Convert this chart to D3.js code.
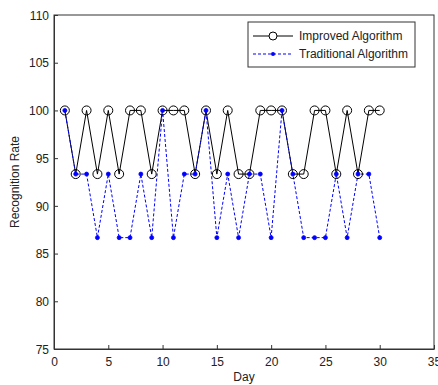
<!DOCTYPE html>
<html>
<head>
<meta charset="utf-8">
<script src="https://d3js.org/d3.v7.min.js"></script>
<style>
  body { margin: 0; background: #fff; }
  text { font-family: "Liberation Sans", Arial, sans-serif; fill: #222; }
</style>
</head>
<body>
<div id="chart"></div>
<script>
// data
const days = d3.range(1, 31);
const improved = [100, 93.33, 100, 93.33, 100, 93.33, 100, 100, 93.33, 100,
                  100, 100, 93.33, 100, 93.33, 100, 93.33, 93.33, 100, 100,
                  100, 93.33, 93.33, 100, 100, 93.33, 100, 93.33, 100, 100];
const traditional = [100, 93.33, 93.33, 86.67, 93.33, 86.67, 86.67, 93.33, 86.67, 100,
                     86.67, 93.33, 93.33, 100, 86.67, 93.33, 86.67, 93.33, 93.33, 86.67,
                     100, 93.33, 86.67, 86.67, 86.67, 93.33, 86.67, 93.33, 93.33, 86.67];
const xTicks = [0, 5, 10, 15, 20, 25, 30, 35];
const yTicks = [75, 80, 85, 90, 95, 100, 105, 110];
const seriesNames = ["Improved Algorithm", "Traditional Algorithm"];

const width = 438, height = 385;
const margin = {top: 15, right: 4, bottom: 36, left: 54};
const w = width - margin.left - margin.right;
const h = height - margin.top - margin.bottom;

const svg = d3.select("#chart").append("svg")
    .attr("width", width)
    .attr("height", height);

const g = svg.append("g")
    .attr("transform", "translate(" + margin.left + "," + margin.top + ")");

const x = d3.scaleLinear().domain([0, 35]).range([0, w]);
const y = d3.scaleLinear().domain([75, 110]).range([h, 0]);

// box
g.append("rect")
    .attr("width", w).attr("height", h)
    .attr("fill", "none").attr("stroke", "#333").attr("stroke-width", 1);

// axes
const xAxis = g.append("g")
    .attr("transform", "translate(0," + h + ")")
    .call(d3.axisBottom(x).tickValues(xTicks).tickSizeInner(-4).tickSizeOuter(0).tickPadding(8));
const yAxis = g.append("g")
    .call(d3.axisLeft(y).tickValues(yTicks).tickSizeInner(-4).tickSizeOuter(0).tickPadding(5));

[xAxis, yAxis].forEach(a => {
    a.select(".domain").attr("stroke", "#333");
    a.selectAll(".tick line").attr("stroke", "#333");
    a.selectAll("text").attr("font-size", 12).attr("fill", "#222");
});
yAxis.selectAll("text").attr("dy", "0.35em");

// labels
svg.append("text")
    .attr("x", margin.left + w / 2).attr("y", 381)
    .attr("text-anchor", "middle").attr("font-size", 12)
    .text("Day");
svg.append("text")
    .attr("transform", "translate(19," + (margin.top + h / 2) + ") rotate(-90)")
    .attr("text-anchor", "middle").attr("font-size", 12)
    .text("Recognition Rate");

// lines
const line = d3.line()
    .x((d, i) => x(days[i]))
    .y(d => y(d));

g.append("path")
    .datum(improved)
    .attr("d", line)
    .attr("fill", "none").attr("stroke", "#000").attr("stroke-width", 1);

g.append("path")
    .datum(traditional)
    .attr("d", line)
    .attr("fill", "none").attr("stroke", "#0000ff").attr("stroke-width", 1)
    .attr("stroke-dasharray", "3,2");

g.selectAll(".imp")
    .data(improved).enter()
    .append("circle")
    .attr("cx", (d, i) => x(days[i]))
    .attr("cy", d => y(d))
    .attr("r", 4.5)
    .attr("fill", "none").attr("stroke", "#000");

g.selectAll(".trad")
    .data(traditional).enter()
    .append("circle")
    .attr("cx", (d, i) => x(days[i]))
    .attr("cy", d => y(d))
    .attr("r", 2)
    .attr("fill", "#0000ff").attr("stroke", "#0000ff").attr("stroke-width", 0.8);

// legend
const lg = svg.append("g").attr("transform", "translate(248,22)");
lg.append("rect")
    .attr("width", 167).attr("height", 45)
    .attr("fill", "#fff").attr("stroke", "#333");

seriesNames.forEach((name, i) => {
    const ly = 14 + i * 18;
    const row = lg.append("g");
    row.append("line")
        .attr("x1", 5).attr("x2", 45).attr("y1", ly).attr("y2", ly)
        .attr("stroke", i === 0 ? "#000" : "#0000ff")
        .attr("stroke-dasharray", i === 0 ? null : "3,2");
    if (i === 0) {
        row.append("circle").attr("cx", 25).attr("cy", ly).attr("r", 4)
            .attr("fill", "#fff").attr("stroke", "#000");
    } else {
        row.append("circle").attr("cx", 25).attr("cy", ly).attr("r", 2)
            .attr("fill", "#0000ff");
    }
    row.append("text")
        .attr("x", 51).attr("y", ly).attr("dy", "0.35em")
        .attr("font-size", 12)
        .text(name);
});
</script>
</body>
</html>
